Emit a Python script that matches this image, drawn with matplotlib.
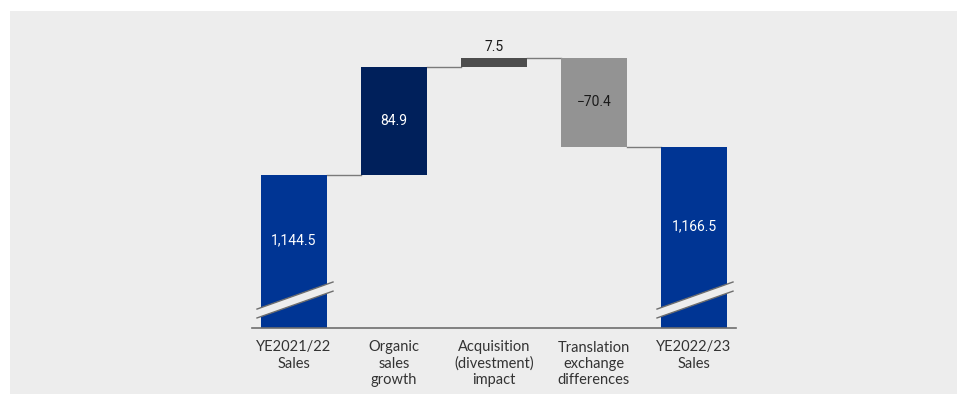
import matplotlib
matplotlib.use("Agg")
import matplotlib.pyplot as plt
from matplotlib.patches import Rectangle, Polygon

# data
categories = ["YE2021/22\nSales", "Organic\nsales\ngrowth", "Acquisition\n(divestment)\nimpact",
              "Translation\nexchange\ndifferences", "YE2022/23\nSales"]
start_total = 1144.5
changes = [84.9, 7.5, -70.4]
end_total = 1166.5
bar_labels = ["1,144.5", "84.9", "7.5", "\u221270.4", "1,166.5"]
colors = ["#003594", "#00205b", "#4d4d4d", "#939393", "#003594"]

base = 1024.2
top_lim = 1266.6

fig = plt.figure(figsize=(9.67, 4.05), dpi=100)
fig.patch.set_facecolor("white")
fig.patches.append(Rectangle((10 / 967, 1 - 394 / 405), 947 / 967, 383 / 405,
                             transform=fig.transFigure, facecolor="#ededed",
                             edgecolor="none", zorder=-5))

ax = fig.add_axes([252 / 967, 1 - 328 / 405, 484 / 967, 308 / 405])
ax.set_zorder(2)
ax.set_facecolor("none")
ax.set_xlim(-0.42, 4.42)
ax.set_ylim(base, top_lim)

w = 0.66
# waterfall levels
levels = [start_total]
for c in changes:
    levels.append(levels[-1] + c)

bottoms = [base]
heights = [start_total - base]
for i, c in enumerate(changes):
    lo = min(levels[i], levels[i + 1])
    bottoms.append(lo)
    heights.append(abs(c))
bottoms.append(base)
heights.append(end_total - base)

ax.bar(range(5), heights, bottom=bottoms, width=w, color=colors, zorder=2)

# connectors
for i, y in enumerate(levels):
    ax.plot([i + w / 2, i + 1 - w / 2], [y, y], color="#7a7a7a", lw=1, zorder=1)

# axis break stripes on total bars
for i in [0, 4]:
    x0, x1 = i - 0.37, i + 0.39
    lo0, lo1 = base + 7.9, base + 29.0
    hi0, hi1 = base + 14.9, base + 36.2
    ax.add_patch(Polygon([(x0, lo0), (x1, lo1), (x1, hi1), (x0, hi0)],
                         closed=True, facecolor="#ededed", edgecolor="none", zorder=3))
    ax.plot([x0, x1], [lo0, lo1], color="#6e6e6e", lw=1, zorder=4)
    ax.plot([x0, x1], [hi0, hi1], color="#6e6e6e", lw=1, zorder=4)

# baseline
ax.axhline(base, color="#6e6e6e", lw=1.2, zorder=5, clip_on=False)

# value labels
lab_font = dict(family=["Roboto", "DejaVu Sans"], fontsize=10)
ax.text(0, (start_total + base + 18) / 2, bar_labels[0], ha="center", va="center",
        color="white", **lab_font)
ax.text(4, (end_total + base + 18) / 2, bar_labels[4], ha="center", va="center",
        color="white", **lab_font)
ax.text(1, bottoms[1] + heights[1] / 2, bar_labels[1], ha="center", va="center",
        color="white", **lab_font)
ax.text(2, bottoms[2] + heights[2] + 3, bar_labels[2], ha="center", va="bottom",
        color="#1a1a1a", **lab_font)
ax.text(3, bottoms[3] + heights[3] / 2, bar_labels[3], ha="center", va="center",
        color="#1a1a1a", **lab_font)

ax.set_xticks(range(5))
ax.set_xticklabels(categories, family=["Lato", "DejaVu Sans"], fontsize=10.5,
                   color="#333333", linespacing=1.2)
ax.tick_params(axis="x", length=0, pad=9)
ax.set_yticks([])
for s in ax.spines.values():
    s.set_visible(False)

fig.savefig("out.png", dpi=100)
